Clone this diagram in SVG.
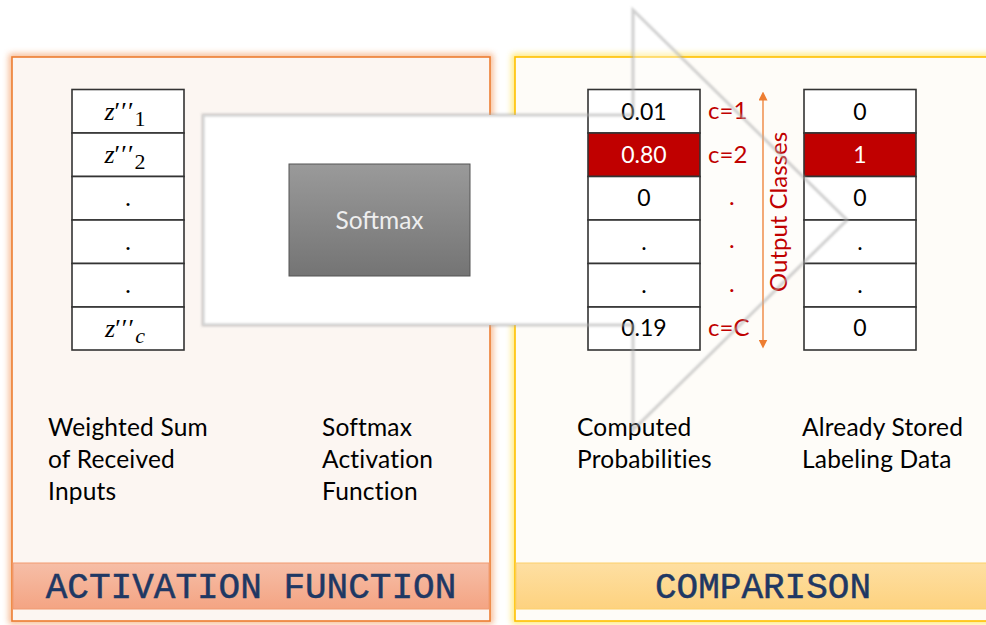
<svg xmlns="http://www.w3.org/2000/svg" width="986" height="625" viewBox="0 0 986 625">
  <defs>
    <style>
      .txt { font-family: Lato, "Open Sans", "Liberation Sans", sans-serif; fill: #000; }
      .lbl { font-size: 24.5px; letter-spacing: 0.2px; }
      .num { font-size: 23px; text-anchor: middle; }
      .math { font-family: "Liberation Serif", "DejaVu Serif", serif; font-size: 26px; text-anchor: middle; fill: #000; }
      .red { fill: #c00000; font-family: Lato, "Open Sans", "Liberation Sans", sans-serif; font-size: 24px; }
      .cell { fill: #ffffff; stroke: #333; stroke-width: 1.6; }
      .hot { fill: #c00000; stroke: #333; stroke-width: 1.6; }
      .band { font-family: "Liberation Mono", "Courier New", monospace; font-size: 36px; fill: #1f3864; text-anchor: middle; stroke: #1f3864; stroke-width: 0.5; }
    </style>
    <filter id="glow" x="-10%" y="-10%" width="120%" height="120%">
      <feGaussianBlur stdDeviation="3"/>
    </filter>
    <filter id="soft" x="-5%" y="-5%" width="110%" height="110%">
      <feGaussianBlur stdDeviation="1.2"/>
    </filter>
    <linearGradient id="gBandL" x1="0" y1="0" x2="0" y2="1">
      <stop offset="0" stop-color="#f6bea7"/>
      <stop offset="1" stop-color="#f4a483"/>
    </linearGradient>
    <linearGradient id="gBandR" x1="0" y1="0" x2="0" y2="1">
      <stop offset="0" stop-color="#fedfa2"/>
      <stop offset="1" stop-color="#fdd27f"/>
    </linearGradient>
    <linearGradient id="gSoft" x1="0" y1="0" x2="0" y2="1">
      <stop offset="0" stop-color="#9a9a9a"/>
      <stop offset="1" stop-color="#747474"/>
    </linearGradient>
    <marker id="tri" viewBox="0 0 10 10" refX="5" refY="5" markerWidth="9" markerHeight="9" orient="auto-start-reverse" markerUnits="userSpaceOnUse">
      <path d="M0,0 L10,5 L0,10 Z" fill="#ed7d31"/>
    </marker>
  </defs>

  <rect width="986" height="625" fill="#ffffff"/>

  <!-- Activation function panel -->
  <g id="panel-activation">
    <rect x="12" y="57" width="478" height="564" fill="none" stroke="#f4a06a" stroke-width="6" filter="url(#glow)" opacity="0.8"/>
    <rect x="12" y="57" width="478" height="564" fill="#fcf6f2" stroke="#ed7d31" stroke-width="1.6"/>
    <rect x="13" y="563" width="476" height="46" fill="url(#gBandL)" stroke="#f19a70" stroke-width="1"/>
    <text class="band" x="251" y="598">ACTIVATION FUNCTION</text>
  </g>

  <!-- Comparison panel -->
  <g id="panel-comparison">
    <rect x="515" y="57" width="500" height="564" fill="none" stroke="#ffe046" stroke-width="6" filter="url(#glow)" opacity="0.8"/>
    <rect x="515" y="57" width="500" height="564" fill="#fefcf8" stroke="#ffc000" stroke-width="1.6"/>
    <rect x="516" y="563" width="480" height="46" fill="url(#gBandR)" stroke="#fcd06a" stroke-width="1"/>
    <text class="band" x="763" y="598">COMPARISON</text>
  </g>

  <!-- Big flow arrow: white shaft, faint head -->
  <g id="flow-arrow">
    <path d="M633,10 L847,220 L633,430 Z" fill="#ffffff" opacity="0.35"/>
    <rect x="203" y="115" width="430" height="210" fill="#ffffff"/>
  </g>

  <!-- Input column -->
  <g id="inputs">
    <rect class="cell" x="72" y="89.5" width="112" height="43.5"/>
    <rect class="cell" x="72" y="133" width="112" height="43.5"/>
    <rect class="cell" x="72" y="176.5" width="112" height="43.5"/>
    <rect class="cell" x="72" y="220" width="112" height="43.5"/>
    <rect class="cell" x="72" y="263.5" width="112" height="43.5"/>
    <rect class="cell" x="72" y="307" width="112" height="43"/>
    <text class="math" x="125" y="120"><tspan font-style="italic">z</tspan><tspan letter-spacing="1">′′′</tspan><tspan dy="6" font-size="22">1</tspan></text>
    <text class="math" x="125" y="163"><tspan font-style="italic">z</tspan><tspan letter-spacing="1">′′′</tspan><tspan dy="6" font-size="22">2</tspan></text>
    <text class="math" x="128" y="206">.</text>
    <text class="math" x="128" y="250">.</text>
    <text class="math" x="128" y="293">.</text>
    <text class="math" x="125" y="337"><tspan font-style="italic">z</tspan><tspan letter-spacing="1">′′′</tspan><tspan dy="6" font-size="22" font-style="italic">c</tspan></text>
  </g>

  <!-- Softmax block -->
  <g id="softmax">
    <rect x="289" y="164" width="181" height="112" fill="url(#gSoft)" stroke="#555" stroke-width="1"/>
    <text x="379.5" y="229" text-anchor="middle" font-family="Lato, 'Open Sans', sans-serif" font-size="24.5" fill="#eeeeee">Softmax</text>
  </g>

  <!-- Computed probabilities column -->
  <g id="probabilities">
    <rect class="cell" x="588" y="89.5" width="112" height="43.5"/>
    <rect class="hot" x="588" y="133" width="112" height="43.5"/>
    <rect class="cell" x="588" y="176.5" width="112" height="43.5"/>
    <rect class="cell" x="588" y="220" width="112" height="43.5"/>
    <rect class="cell" x="588" y="263.5" width="112" height="43.5"/>
    <rect class="cell" x="588" y="307" width="112" height="43"/>
    <text class="txt num" x="644" y="120">0.01</text>
    <text class="txt num" x="644" y="163" style="fill:#ffffff">0.80</text>
    <text class="txt num" x="644" y="206">0</text>
    <text class="txt num" x="644" y="250">.</text>
    <text class="txt num" x="644" y="293">.</text>
    <text class="txt num" x="644" y="336">0.19</text>
  </g>

  <!-- Class indices -->
  <g id="class-labels">
    <text class="red" x="708" y="119">c=1</text>
    <text class="red" x="708" y="163">c=2</text>
    <text class="red" x="729" y="205">.</text>
    <text class="red" x="729" y="248">.</text>
    <text class="red" x="729" y="292">.</text>
    <text class="red" x="708" y="336">c=C</text>
  </g>

  <!-- Output classes range -->
  <g id="connectors">
    <line x1="763" y1="96" x2="763" y2="344" stroke="#ed7d31" stroke-width="1.3" marker-start="url(#tri)" marker-end="url(#tri)"/>
  </g>
  <text class="red" x="0" y="0" font-size="27" text-anchor="middle" transform="translate(787,212) rotate(-90)">Output Classes</text>

  <!-- Stored labels column -->
  <g id="labels">
    <rect class="cell" x="804" y="89.5" width="112" height="43.5"/>
    <rect class="hot" x="804" y="133" width="112" height="43.5"/>
    <rect class="cell" x="804" y="176.5" width="112" height="43.5"/>
    <rect class="cell" x="804" y="220" width="112" height="43.5"/>
    <rect class="cell" x="804" y="263.5" width="112" height="43.5"/>
    <rect class="cell" x="804" y="307" width="112" height="43"/>
    <text class="txt num" x="860" y="120">0</text>
    <text class="txt num" x="860" y="163" style="fill:#ffffff">1</text>
    <text class="txt num" x="860" y="206">0</text>
    <text class="txt num" x="860" y="250">.</text>
    <text class="txt num" x="860" y="293">.</text>
    <text class="txt num" x="860" y="336">0</text>
  </g>

  <!-- Captions -->
  <g id="captions">
    <text class="txt lbl" x="48" y="436">Weighted Sum</text>
    <text class="txt lbl" x="48" y="468">of Received</text>
    <text class="txt lbl" x="48" y="500">Inputs</text>
    <text class="txt lbl" x="322" y="436">Softmax</text>
    <text class="txt lbl" x="322" y="468">Activation</text>
    <text class="txt lbl" x="322" y="500">Function</text>
    <text class="txt lbl" x="577" y="436">Computed</text>
    <text class="txt lbl" x="577" y="468">Probabilities</text>
    <text class="txt lbl" x="802" y="436">Already Stored</text>
    <text class="txt lbl" x="802" y="468">Labeling Data</text>
  </g>

  <!-- Soft outline of the flow arrow -->
  <path d="M203,115 H633 V10 L847,220 L633,430 V325 H203 Z" fill="none" stroke="#b0b0b0" stroke-width="3" opacity="0.6" filter="url(#soft)"/>
</svg>
